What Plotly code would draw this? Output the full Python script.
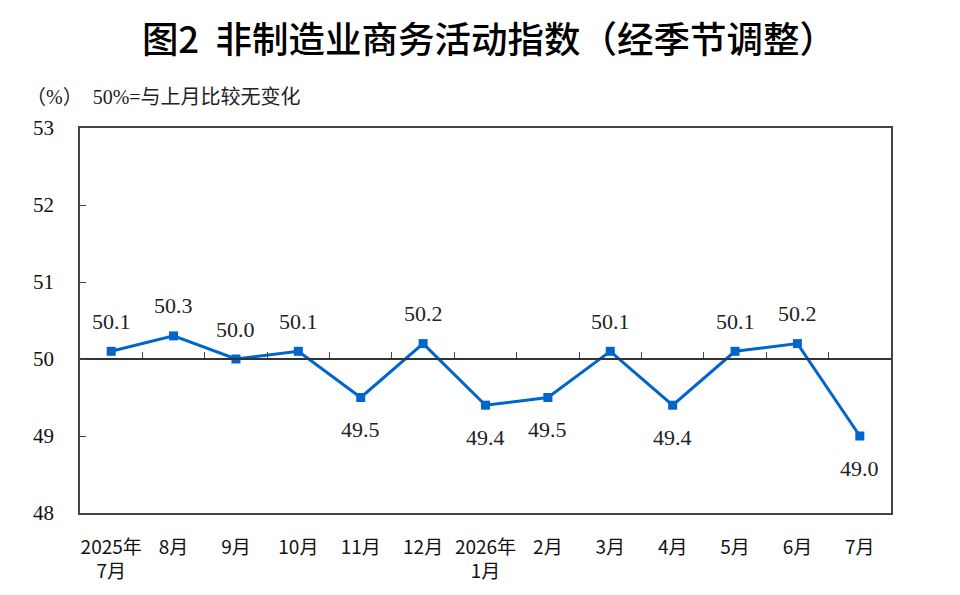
import plotly.graph_objects as go

months = ["2025年<br>7月", "8月", "9月", "10月", "11月", "12月", "2026年<br>1月",
          "2月", "3月", "4月", "5月", "6月", "7月"]
values = [50.1, 50.3, 50.0, 50.1, 49.5, 50.2, 49.4, 49.5, 50.1, 49.4, 50.1, 50.2, 49.0]
label_pos = ["up", "up", "up", "up", "down", "up", "down", "down", "up", "down", "up", "up", "down"]
y_ticks = [48, 49, 50, 51, 52, 53]

idx = list(range(len(months)))
serif = "Liberation Serif, Noto Sans CJK SC, serif"
sans = "Noto Sans CJK SC, sans-serif"

W, H = 960, 595
plot_left, plot_right, plot_top, plot_bottom = 80, 891, 128, 515
pw = plot_right - plot_left
ph = plot_bottom - plot_top

fig = go.Figure()
fig.add_trace(go.Scatter(
    x=idx, y=values, mode="lines+markers",
    line=dict(color="#0066CC", width=3),
    marker=dict(symbol="square", size=9, color="#0066CC"),
    hoverinfo="skip", showlegend=False,
))
# invisible trace to carry the 50-line axis
fig.add_trace(go.Scatter(x=[idx[0], idx[-1]], y=[50, 50], xaxis="x2", mode="lines",
                         line=dict(width=0), hoverinfo="skip", showlegend=False))

annotations = []
for i, v, p in zip(idx, values, label_pos):
    annotations.append(dict(
        x=i, y=v, xref="x", yref="y", text=f"{v:.1f}", showarrow=False,
        yshift=30 if p == "up" else -32,
        font=dict(family=serif, size=22, color="#222222"),
    ))
annotations.append(dict(
    x=(24 - plot_left) / pw, xref="paper", xanchor="left",
    y=(plot_bottom - 97) / ph, yref="paper", yanchor="middle",
    text="（%）  50%=与上月比较无变化", showarrow=False,
    font=dict(family=serif, size=20, color="#222222"),
))

fig.update_layout(
    width=W, height=H,
    margin=dict(l=plot_left, r=W - plot_right, t=plot_top, b=H - plot_bottom),
    paper_bgcolor="white", plot_bgcolor="white",
    title=dict(text="图2  非制造业商务活动指数（经季节调整）", x=489 / W, xref="container",
               xanchor="center", y=1 - 40 / H, yanchor="middle",
               font=dict(family=sans, size=36.5, color="#000000", weight=500)),
    xaxis=dict(range=[-0.5, len(months) - 0.5], tickmode="array", tickvals=idx,
               ticktext=months, ticks="", showline=True, linecolor="#444444", linewidth=1.5,
               mirror=True, showgrid=False, zeroline=False, ticklabelstandoff=16,
               tickfont=dict(family=sans, size=19, color="#111111")),
    xaxis2=dict(range=[-0.5, len(months) - 0.5], overlaying="x", anchor="free",
                position=(50 - y_ticks[0]) / (y_ticks[-1] - y_ticks[0]),
                tickmode="array", tickvals=[i + 0.5 for i in idx[:-1]],
                ticks="inside", ticklen=6, tickcolor="#444444", tickwidth=1.3,
                showticklabels=False, showline=True, linecolor="#333333", linewidth=1.5,
                showgrid=False, zeroline=False),
    yaxis=dict(range=[y_ticks[0], y_ticks[-1]], tickmode="array", tickvals=y_ticks,
               ticks="inside", ticklen=6, tickcolor="#444444", tickwidth=1.3,
               showline=True, linecolor="#444444", linewidth=1.5, mirror=True,
               showgrid=False, zeroline=False, ticklabelstandoff=20,
               tickfont=dict(family=serif, size=21, color="#111111")),
    annotations=annotations,
)

fig.write_html("out.html", config={"displayModeBar": False},
               post_script="document.body.style.margin='0';")
